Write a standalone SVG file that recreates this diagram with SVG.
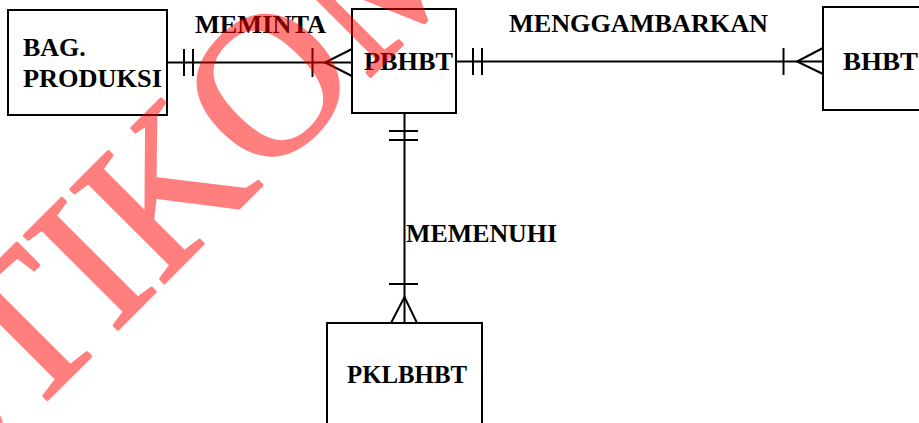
<svg xmlns="http://www.w3.org/2000/svg" width="919" height="423" viewBox="0 0 919 423">
  <style>
    .box { fill: #ffffff; stroke: #000000; stroke-width: 2; }
    .lbl { font-weight: bold; font-size: 26px; fill: #000000; }
    .ln { stroke: #000000; stroke-width: 2; fill: none; }
    .wm { font-size: 202px; fill: #ff0000; stroke: #ff0000; stroke-width: 3; stroke-linejoin: round; opacity: 0.5; }
  </style>
  <rect width="919" height="423" fill="#ffffff"/>

  <g font-family="'Liberation Serif', Tinos, 'Times New Roman', 'DejaVu Serif', serif">
    <!-- connectors -->
    <g id="connectors">
      <!-- BAG. PRODUKSI (one) to PBHBT (many) -->
      <g id="meminta">
        <line class="ln" x1="167" y1="62.5" x2="352" y2="62.5"/>
        <line class="ln" x1="184" y1="49" x2="184" y2="76"/>
        <line class="ln" x1="193" y1="49" x2="193" y2="76"/>
        <line class="ln" x1="312.5" y1="48" x2="312.5" y2="77"/>
        <polyline class="ln" points="352,49 325,62.5 352,76"/>
      </g>
      <!-- PBHBT (one) to BHBT (many) -->
      <g id="menggambarkan">
        <line class="ln" x1="456" y1="61.5" x2="823" y2="61.5"/>
        <line class="ln" x1="473" y1="48" x2="473" y2="75"/>
        <line class="ln" x1="482" y1="48" x2="482" y2="75"/>
        <line class="ln" x1="783.5" y1="48" x2="783.5" y2="75"/>
        <polyline class="ln" points="823,48 797,61.5 823,74"/>
      </g>
      <!-- PBHBT (one) to PKLBHBT (many) -->
      <g id="memenuhi">
        <line class="ln" x1="404.5" y1="113" x2="404.5" y2="323"/>
        <line class="ln" x1="389" y1="131" x2="418" y2="131"/>
        <line class="ln" x1="389" y1="140" x2="418" y2="140"/>
        <line class="ln" x1="389" y1="284" x2="418" y2="284"/>
        <polyline class="ln" points="391,323 404.5,297 417,323"/>
      </g>
      <text class="lbl" x="195" y="33" textLength="131" lengthAdjust="spacingAndGlyphs">MEMINTA</text>
      <text class="lbl" x="509" y="32" textLength="259" lengthAdjust="spacingAndGlyphs">MENGGAMBARKAN</text>
      <text class="lbl" x="406" y="242" textLength="151" lengthAdjust="spacingAndGlyphs">MEMENUHI</text>
    </g>

    <!-- entities -->
    <g id="bag-produksi">
      <rect class="box" x="8" y="10" width="159" height="105"/>
      <text class="lbl" x="23" y="56">BAG.</text>
      <text class="lbl" x="23" y="87" textLength="139" lengthAdjust="spacingAndGlyphs">PRODUKSI</text>
    </g>
    <g id="pbhbt">
      <rect class="box" x="352" y="9" width="104" height="104"/>
      <text class="lbl" x="364" y="70" textLength="89" lengthAdjust="spacingAndGlyphs">PBHBT</text>
    </g>
    <g id="bhbt">
      <rect class="box" x="823" y="7" width="110" height="103"/>
      <text class="lbl" x="843" y="70" textLength="75" lengthAdjust="spacingAndGlyphs">BHBT</text>
    </g>
    <g id="pklbhbt">
      <rect class="box" x="327" y="323" width="155" height="120"/>
      <text class="lbl" x="347" y="383" textLength="120" lengthAdjust="spacingAndGlyphs">PKLBHBT</text>
    </g>

    <!-- watermark lettering across the sheet -->
    <text class="wm" transform="translate(-54,501) rotate(-45)">STIKOM</text>
  </g>
</svg>
